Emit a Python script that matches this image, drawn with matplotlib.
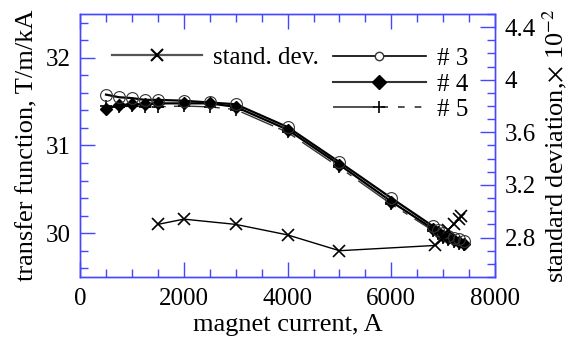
import matplotlib
matplotlib.use("Agg")
import matplotlib.pyplot as plt
from matplotlib.lines import Line2D
from matplotlib.ticker import MultipleLocator

plt.rcParams["font.family"] = ["Liberation Serif", "DejaVu Serif"]
plt.rcParams["mathtext.fontset"] = "stix"

# transfer function measurements, T/m/kA
current = [500, 750, 1000, 1250, 1500, 2000, 2500, 3000, 4000, 5000, 6000,
           6800, 6900, 7000, 7100, 7200, 7300, 7400]
tf_3 = [31.58, 31.55, 31.54, 31.52, 31.52, 31.51, 31.49, 31.47, 31.21, 30.81, 30.40,
        30.08, 30.04, 30.00, 29.97, 29.95, 29.93, 29.91]
tf_4 = [31.42, 31.46, 31.47, 31.47, 31.48, 31.48, 31.48, 31.44, 31.18, 30.78, 30.36,
        30.05, 30.01, 29.97, 29.94, 29.92, 29.90, 29.88]
tf_5 = [31.45, 31.44, 31.45, 31.44, 31.44, 31.45, 31.44, 31.41, 31.15, 30.75, 30.33,
        30.03, 29.99, 29.95, 29.92, 29.90, 29.88, 29.86]

# standard deviation, x 10^-2
sd_current = [1500, 2000, 3000, 4000, 5000, 6850, 7000, 7100, 7200, 7300, 7350]
sd_value = [2.90, 2.94, 2.90, 2.82, 2.70, 2.74, 2.80, 2.86, 2.90, 2.94, 2.96]

blue = "#4646ff"
fs = 18
lfs = 19

fig = plt.figure(figsize=(5.72, 3.48), dpi=100)
ax = fig.add_axes([0.14, 0.204, 0.7255, 0.756])
ax2 = ax.twinx()

ax.plot(current, tf_5, color="#333333", lw=1.0, dashes=(25, 4, 4, 6, 4, 6),
        marker="+", ms=9, mew=1.2, mec="black")
ax.plot(current, tf_4, color="black", lw=1.6, marker="D", ms=6.5, mfc="black", mec="black")
ax.plot(current, tf_3, color="black", lw=1.6, marker="o", ms=8.5, mfc="none", mec="#333333", mew=0.8)
ax2.plot(sd_current, sd_value, color="black", lw=1.0, marker="x", ms=8, mew=1.2)

ax.set_xlim(0, 8000)
ax.set_ylim(29.5, 32.5)
ax2.set_ylim(2.5, 4.5)

ax.xaxis.set_major_locator(MultipleLocator(2000))
ax.xaxis.set_minor_locator(MultipleLocator(500))
ax.yaxis.set_major_locator(MultipleLocator(1))
ax.yaxis.set_minor_locator(MultipleLocator(0.2))
ax2.yaxis.set_minor_locator(MultipleLocator(0.1))
ax2.set_yticks([2.8, 3.2, 3.6, 4.0, 4.4])
ax2.set_yticklabels(["2.8", "3.2", "3.6", "4", "4.4"])

ax.tick_params(axis="x", which="both", direction="in", top=True, color=blue, labelsize=fs, pad=8)
ax.tick_params(axis="y", which="both", direction="in", right=False, color=blue, labelsize=fs, pad=7)
ax2.tick_params(axis="y", which="both", direction="in", color=blue, labelsize=fs, pad=7)
for a in (ax, ax2):
    a.tick_params(which="major", length=11, width=1)
    a.tick_params(which="minor", length=6, width=1)
    for s in a.spines.values():
        s.set_color(blue)
        s.set_linewidth(1)

ax.set_xlabel("magnet current, A", fontsize=lfs, labelpad=3)
ax.set_ylabel("transfer function, T/m/kA", fontsize=lfs, labelpad=5)
ax2.set_ylabel(r"standard deviation,$\times$ 10$^{-2}$", fontsize=lfs, labelpad=3)

h_sd = Line2D([], [], color="#555555", lw=1.6, marker="x", ms=8, mew=1.5, mec="black")
leg1 = ax.legend([h_sd], ["stand. dev."], loc="center left", bbox_to_anchor=(0.077, 0.833),
                 frameon=False, fontsize=fs, handlelength=3.6, handletextpad=0.45,
                 borderpad=0, borderaxespad=0, numpoints=1)
ax.add_artist(leg1)

h3 = Line2D([], [], color="black", lw=1.2, marker="o", ms=6, mfc="white", mec="#333333")
h4 = Line2D([], [], color="#333333", lw=1.5, marker="D", ms=7, mfc="black", mec="black")
h5 = Line2D([], [], color="#333333", lw=1.2, dashes=(25, 4, 4, 6, 4, 6, 4, 6, 4, 6),
            marker="+", ms=9, mew=1.2, mec="black")
ax.legend([h3, h4, h5], ["# 3", "# 4", "# 5"], loc="center left", bbox_to_anchor=(0.61, 0.732),
          frameon=False, fontsize=fs, handlelength=3.7, handletextpad=0.45,
          borderpad=0, borderaxespad=0, labelspacing=0.12, numpoints=1)

fig.savefig("out.png", dpi=100)
